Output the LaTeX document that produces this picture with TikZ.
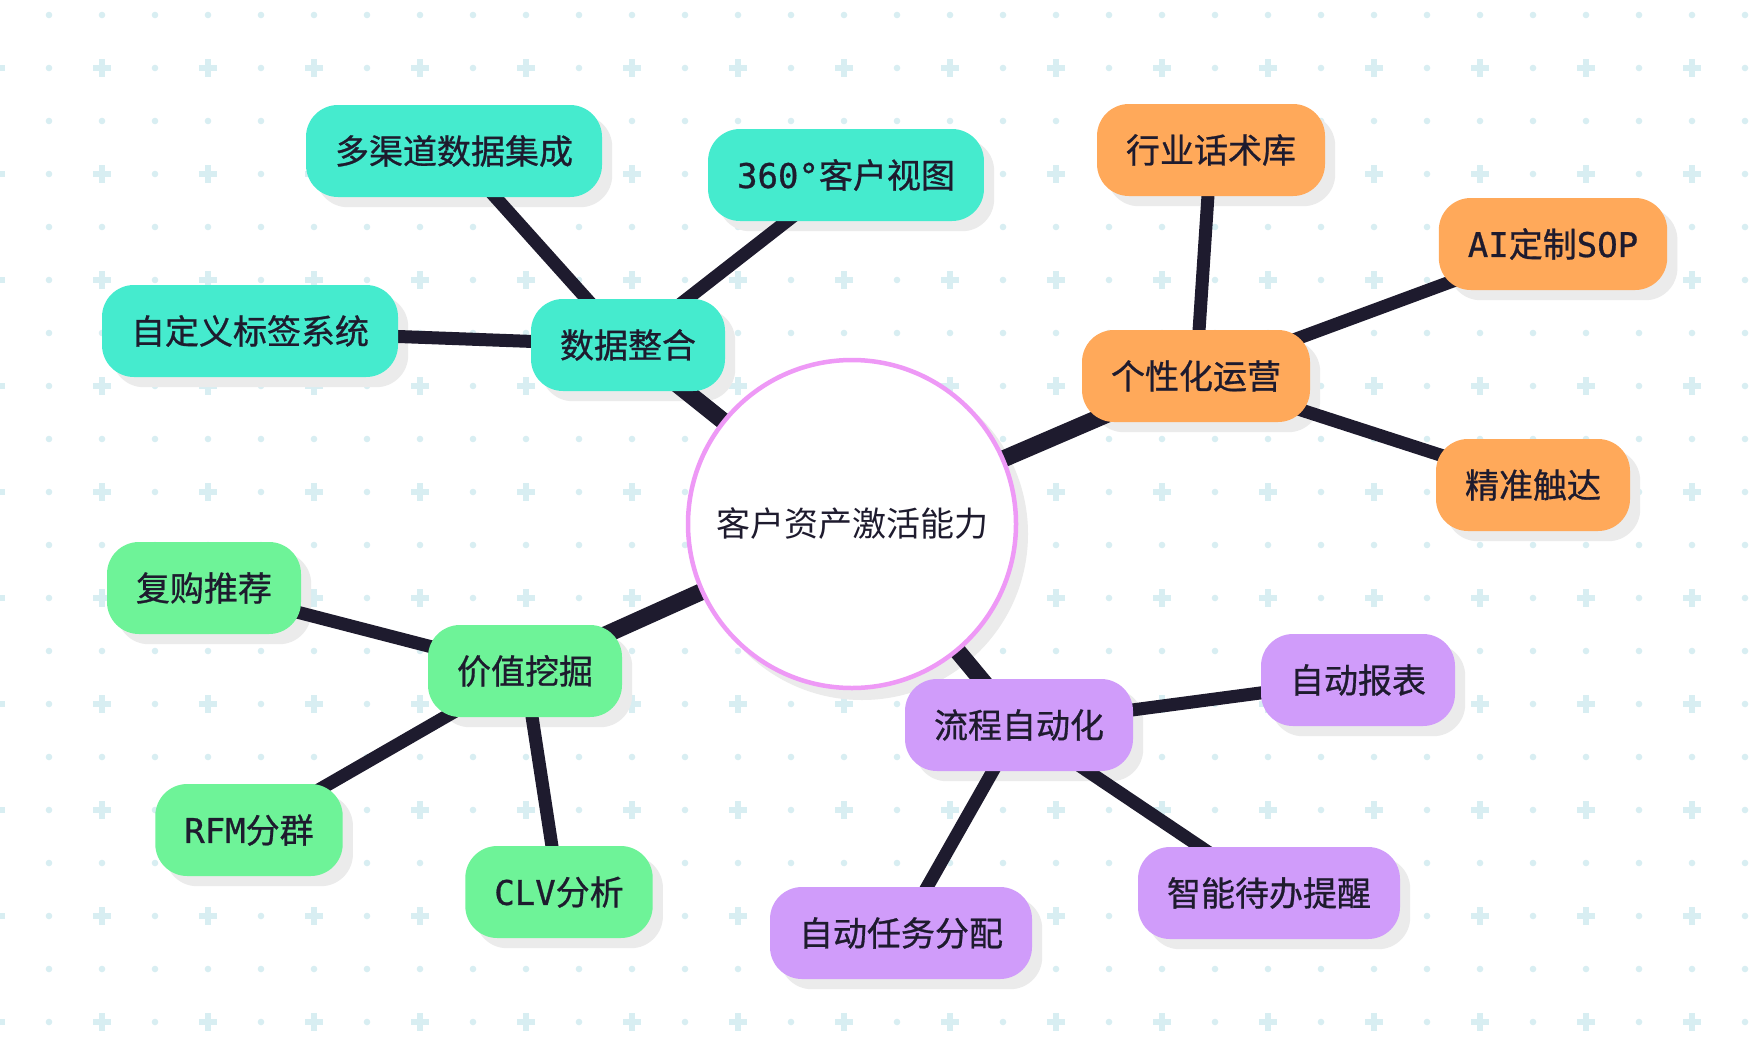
\documentclass[tikz,border=0pt]{standalone}
\usepackage{fontspec}
\setmainfont{Noto Sans CJK SC}
\newfontfamily\labelfam[FakeBold=0.8]{Noto Sans CJK SC}
\newfontfamily\monofam[FakeBold=0.8]{DejaVu Sans Mono}
\definecolor{cteal}{HTML}{45EBCE}
\definecolor{corange}{HTML}{FFA95A}
\definecolor{cgreen}{HTML}{6EF398}
\definecolor{cpurple}{HTML}{D09CFA}
\definecolor{cpink}{HTML}{EE99F6}
\definecolor{cink}{HTML}{1E1B2E}
\definecolor{cgrid}{HTML}{D8EEF2}
\definecolor{cshadow}{HTML}{EBEBEB}
\pgfdeclarelayer{gridlayer}
\pgfdeclarelayer{shadowlayer}
\pgfdeclarelayer{linelayer}
\pgfsetlayers{gridlayer,shadowlayer,linelayer,main}
\tikzset{
  box/.style={rounded corners=32pt, minimum height=92pt, inner xsep=29pt, inner ysep=0pt,
    font=\labelfam\fontsize{34}{40}\selectfont, text=cink},
  tealbox/.style={box, fill=cteal},
  orangebox/.style={box, fill=corange},
  greenbox/.style={box, fill=cgreen},
  purplebox/.style={box, fill=cpurple},
  mainlink/.style={draw=cink, line width=17pt},
  sublink/.style={draw=cink, line width=13pt},
  hub/.style={circle, minimum size=328pt, inner sep=0pt, draw=cpink, line width=4.5pt, fill=white,
    font=\fontsize{34}{40}\selectfont, text=cink},
}
\begin{document}
\begin{tikzpicture}[x=1pt,y=-1pt]
\useasboundingbox (0,0) rectangle (1752,1052);
\begin{pgfonlayer}{gridlayer}
\fill[white] (0,0) rectangle (1752,1052);
\foreach \j in {0,...,19}{
  \foreach \k in {-1,...,32}{
    \pgfmathtruncatemacro{\odd}{mod(\j,2)*mod(abs(\k),2)}
    \pgfmathsetmacro{\gx}{49+53*\k}
    \pgfmathsetmacro{\gy}{15+53*\j}
    \ifnum\odd=1
      \draw[cgrid, line width=6pt] (\gx-9,\gy) -- (\gx+9,\gy) (\gx,\gy-9) -- (\gx,\gy+9);
    \else
      \fill[cgrid] (\gx,\gy) circle (3.3pt);
    \fi
  }
}
\end{pgfonlayer}

\node[hub] (c) at (852,524) {客户资产激活能力};

\node[tealbox] (d0) at (628,345) {数据整合};
\node[tealbox] (d1) at (454,151) {多渠道数据集成};
\node[tealbox] (d2) at (846,175) {{\monofam 360°}客户视图};
\node[tealbox] (d3) at (250,331) {自定义标签系统};

\node[orangebox] (p0) at (1196,376) {个性化运营};
\node[orangebox] (p1) at (1211,150) {行业话术库};
\node[orangebox] (p2) at (1553,244) {{\monofam AI}定制{\monofam SOP}};
\node[orangebox] (p3) at (1533,485) {精准触达};

\node[greenbox] (v0) at (525,671) {价值挖掘};
\node[greenbox] (v1) at (204,588) {复购推荐};
\node[greenbox] (v2) at (249,830) {{\monofam RFM}分群};
\node[greenbox] (v3) at (559,892) {{\monofam CLV}分析};

\node[purplebox] (a0) at (1019,725) {流程自动化};
\node[purplebox] (a1) at (1358,680) {自动报表};
\node[purplebox] (a2) at (1269,893) {智能待办提醒};
\node[purplebox] (a3) at (901,933) {自动任务分配};

\begin{pgfonlayer}{shadowlayer}
\foreach \n in {d0,d1,d2,d3,p0,p1,p2,p3,v0,v1,v2,v3,a0,a1,a2,a3}{
  \fill[cshadow, rounded corners=32pt] ([shift={(10,10)}]\n.south west) rectangle ([shift={(10,10)}]\n.north east);
}
\fill[cshadow] ([shift={(10,10)}]c.center) circle (166pt);
\end{pgfonlayer}

\begin{pgfonlayer}{linelayer}
\draw[mainlink] (c.center) -- (d0.center);
\draw[mainlink] (c.center) -- (p0.center);
\draw[mainlink] (c.center) -- (v0.center);
\draw[mainlink] (c.center) -- (a0.center);
\draw[sublink] (d0.center) -- (d1.center);
\draw[sublink] (d0.center) -- (d2.center);
\draw[sublink] (d0.center) -- (d3.center);
\draw[sublink] (p0.center) -- (p1.center);
\draw[sublink] (p0.center) -- (p2.center);
\draw[sublink] (p0.center) -- (p3.center);
\draw[sublink] (v0.center) -- (v1.center);
\draw[sublink] (v0.center) -- (v2.center);
\draw[sublink] (v0.center) -- (v3.center);
\draw[sublink] (a0.center) -- (a1.center);
\draw[sublink] (a0.center) -- (a2.center);
\draw[sublink] (a0.center) -- (a3.center);
\end{pgfonlayer}
\end{tikzpicture}
\end{document}
